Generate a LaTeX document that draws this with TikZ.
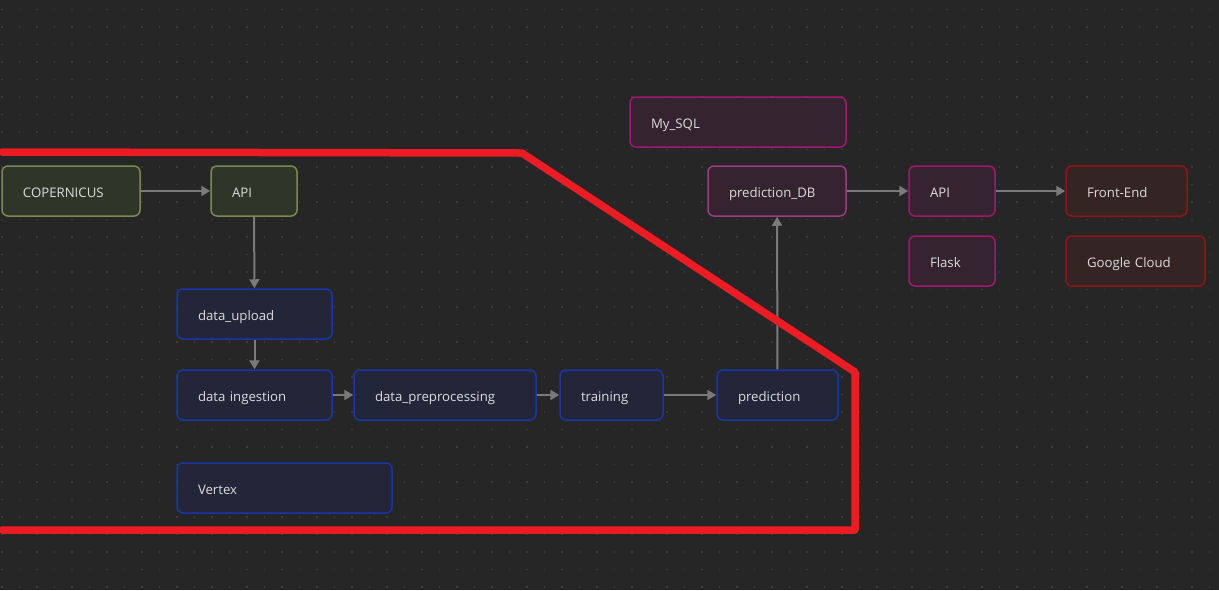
\documentclass[tikz,border=0pt]{standalone}
\usepackage{fontspec}
\setmainfont{Open Sans}
\usetikzlibrary{positioning, arrows.meta}
\definecolor{canvas}{HTML}{262626}
\definecolor{griddot}{HTML}{3C3C3C}
\definecolor{boxtext}{HTML}{DCDCDC}
\definecolor{flowgray}{HTML}{7A7A7A}
\definecolor{srcline}{HTML}{7C8A50}
\definecolor{srcfill}{HTML}{30352A}
\definecolor{mlline}{HTML}{1A36A6}
\definecolor{mlfill}{HTML}{232638}
\definecolor{dbline}{HTML}{A2186F}
\definecolor{dbfill}{HTML}{35242F}
\definecolor{dbsoft}{HTML}{9A3D82}
\definecolor{webline}{HTML}{8E1616}
\definecolor{webfill}{HTML}{352424}
\definecolor{marker}{HTML}{ED1C24}
\tikzset{
    box/.style={rectangle, rounded corners=6pt, line width=1.5pt, minimum height=50pt,
        inner xsep=21pt, text height=12.5pt, text depth=0pt, align=left, text=boxtext,
        font=\fontsize{13.2}{15}\selectfont}, % common box look
    srcbox/.style={box, draw=srcline, fill=srcfill},
    mlbox/.style={box, draw=mlline, fill=mlfill},
    dbbox/.style={box, draw=dbline, fill=dbfill},
    webbox/.style={box, draw=webline, fill=webfill},
    flow/.style={draw=flowgray, line width=2pt, -{Triangle[width=10pt,length=9pt]}}, % gray arrows
    redmark/.style={draw=marker, line width=7.5pt, line cap=round, line join=round},
}

\begin{document}
\begin{tikzpicture}[x=1pt, y=-1pt]
\fill[canvas] (0,0) rectangle (1219,590);
\useasboundingbox (0,0) rectangle (1219,590);
% dotted grid
\foreach \gx in {2,19.5,...,1219}
    \foreach \gy in {9.5,27,...,590}
        \fill[griddot] (\gx-0.8,\gy-0.8) rectangle (\gx+0.8,\gy+0.8);

% source
\node[srcbox, text width=96pt] (copernicus) at (71,191) {COPERNICUS};
\node[srcbox, text width=44pt] (api) at (254,191) {API};
% pipeline
\node[mlbox, text width=113pt] (upload) at (254.5,314) {data\_upload};
\node[mlbox, text width=113pt] (ingest) at (254.5,395) {data ingestion};
\node[mlbox, text width=140pt] (preproc) at (445,395) {data\_preprocessing};
\node[mlbox, text width=61pt] (train) at (611.5,395) {training};
\node[mlbox, text width=79pt] (pred) at (777.5,395) {prediction};
\node[mlbox, text width=173pt] (vertex) at (284.5,488) {Vertex};
% storage and serving
\node[dbbox, text width=174pt] (mysql) at (738,122) {My\_SQL};
\node[dbbox, draw=dbsoft, text width=96pt] (preddb) at (777,191) {prediction\_DB};
\node[dbbox, text width=44pt] (apiweb) at (952,191) {API};
\node[dbbox, text width=44pt] (flask) at (952,261) {Flask};
\node[webbox, text width=79pt] (front) at (1126.5,191) {Front-End};
\node[webbox, text width=97pt] (gcloud) at (1135.5,261) {Google Cloud};

\draw[flow] (copernicus) -- (api);
\draw[flow] (api) -- (upload);
\draw[flow] (upload) -- (ingest);
\draw[flow] (ingest) -- (preproc);
\draw[flow] (preproc) -- (train);
\draw[flow] (train) -- (pred);
\draw[flow] (pred) -- (preddb);
\draw[flow] (preddb) -- (apiweb);
\draw[flow] (apiweb) -- (front);

% hand-drawn outline
\draw[redmark] (2,152) -- (522,153) -- (855,372) -- (855,530) -- (2,530);
\end{tikzpicture}
\end{document}
